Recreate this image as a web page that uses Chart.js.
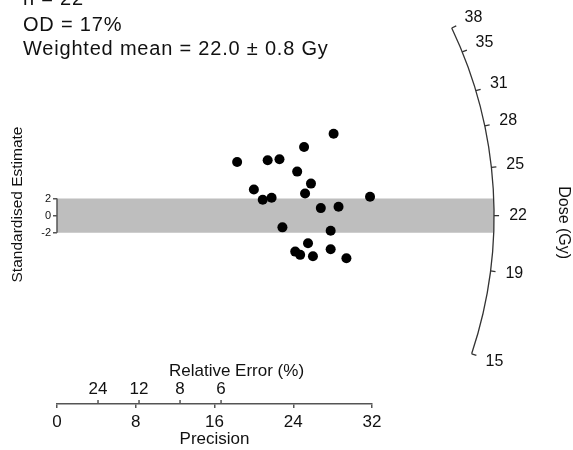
<!DOCTYPE html>
<html>
<head>
<meta charset="utf-8">
<script src="https://cdn.jsdelivr.net/npm/chart.js@4.4.1/dist/chart.umd.min.js"></script>
<style>
  html, body { margin: 0; padding: 0; background: #fff; }
  #wrap { width: 573px; height: 450px; position: relative; }
</style>
</head>
<body>
<div id="wrap"><canvas id="radialPlot"></canvas></div>
<script>
// precision (1/sigma) and standardised estimate of each aliquot
const precision = [28.1, 25.1, 18.3, 21.4, 22.6, 24.4, 25.8, 20.0, 25.2, 20.9, 21.8,
                   31.8, 26.8, 28.6, 22.9, 27.8, 25.5, 24.2, 24.7, 26.0, 27.8, 29.4];
const standardised = [9.56, 8.01, 6.27, 6.47, 6.58, 5.14, 3.74, 3.05, 2.58, 1.85, 2.08,
                      2.20, 0.88, 1.03, -1.37, -1.76, -3.23, -4.20, -4.58, -4.74, -3.93, -4.98];

const precisionTicks = [0, 8, 16, 24, 32];
const relErrorTicks = [24, 12, 8, 6];
const zTicks = [-2, 0, 2];
const doseTicks = [15, 19, 22, 25, 28, 31, 35, 38];

const nAliquots = 22;
const overdispersion = 17;
const centralDose = 22.0;
const centralError = 0.8;
const arcRadius = 44.4; // radius of the dose scale, in precision units

const FONT = "'Liberation Sans', Arial, sans-serif";
const INK = '#111';
const AXIS = '#555';

// band, dose arc, relative error scale and summary text
const radialAxes = {
  id: 'radialAxes',
  beforeDatasetsDraw(chart) {
    const { ctx, scales: { x, y } } = chart;
    const x0 = x.getPixelForValue(0), y0 = y.getPixelForValue(0);
    const R = x.getPixelForValue(arcRadius) - x0;
    const yt = y.getPixelForValue(2), yb = y.getPixelForValue(-2);
    ctx.save();
    ctx.fillStyle = '#bebebe';
    ctx.beginPath();
    ctx.moveTo(x0, yt);
    ctx.arc(x0, y0, R, Math.asin((yt - y0) / R), Math.asin((yb - y0) / R));
    ctx.lineTo(x0, yb);
    ctx.closePath();
    ctx.fill();
    ctx.restore();
  },
  afterDraw(chart) {
    const { ctx, scales: { x, y } } = chart;
    const x0 = x.getPixelForValue(0), y0 = y.getPixelForValue(0);
    const R = x.getPixelForValue(arcRadius) - x0;
    const xPx = x.getPixelForValue(1) - x0;
    const yPx = y0 - y.getPixelForValue(1);
    ctx.save();

    // short bracket of the standardised estimate axis
    ctx.strokeStyle = AXIS;
    ctx.lineWidth = 1.5;
    ctx.beginPath();
    ctx.moveTo(x0, y.getPixelForValue(2));
    ctx.lineTo(x0, y.getPixelForValue(-2));
    ctx.stroke();

    // relative error scale above the precision axis
    const axisY = x.top;
    ctx.fillStyle = INK;
    ctx.font = '17px ' + FONT;
    ctx.textAlign = 'center';
    ctx.textBaseline = 'middle';
    relErrorTicks.forEach(re => {
      const px = x.getPixelForValue(100 / re);
      ctx.beginPath();
      ctx.moveTo(px, axisY);
      ctx.lineTo(px, axisY - 4);
      ctx.stroke();
      ctx.fillText(String(re), px, axisY - 15);
    });
    ctx.fillText('Relative Error (%)', (x.left + x.right) / 2 + 22, axisY - 33);

    // dose arc
    const angleOf = d => Math.atan2(-Math.log(d / centralDose) * yPx, xPx);
    const aTop = angleOf(doseTicks[doseTicks.length - 1]);
    const aBot = angleOf(doseTicks[0]);
    ctx.strokeStyle = '#333';
    ctx.lineWidth = 1.3;
    ctx.beginPath();
    ctx.arc(x0, y0, R, aTop, aBot);
    ctx.stroke();
    ctx.font = '16px ' + FONT;
    doseTicks.forEach(d => {
      const a = angleOf(d);
      const c = Math.cos(a), s = Math.sin(a);
      ctx.beginPath();
      ctx.moveTo(x0 + R * c, y0 + R * s);
      ctx.lineTo(x0 + (R + 5) * c, y0 + (R + 5) * s);
      ctx.stroke();
      ctx.fillText(String(d), x0 + (R + 24) * c, y0 + (R + 24) * s);
    });

    // dose axis title
    ctx.save();
    ctx.translate(563, y0 + 7);
    ctx.rotate(Math.PI / 2);
    ctx.fillText('Dose (Gy)', 0, 0);
    ctx.restore();

    // summary text
    ctx.font = '20px ' + FONT;
    ctx.letterSpacing = '0.8px';
    ctx.textAlign = 'left';
    ctx.textBaseline = 'alphabetic';
    ctx.fillText('n = ' + nAliquots, 23, 5);
    ctx.fillText('OD = ' + overdispersion + '%', 23, 31);
    ctx.fillText('Weighted mean = ' + centralDose.toFixed(1) + ' \u00b1 ' + centralError.toFixed(1) + ' Gy', 23, 55);
    ctx.restore();
  }
};

const points = precision.map((p, i) => ({ x: p, y: standardised[i] }));

new Chart(document.getElementById('radialPlot'), {
  type: 'scatter',
  data: {
    datasets: [{
      data: points,
      backgroundColor: '#000',
      borderWidth: 0,
      pointRadius: 5,
      pointHoverRadius: 5,
      clip: false
    }]
  },
  options: {
    responsive: true,
    maintainAspectRatio: false,
    animation: false,
    layout: { padding: { top: 0, right: 201, bottom: 0, left: 0 } },
    plugins: { legend: { display: false }, tooltip: { enabled: false } },
    scales: {
      x: {
        type: 'linear',
        min: 0,
        max: 32,
        afterBuildTicks: s => { s.ticks = precisionTicks.map(v => ({ value: v })); },
        afterFit: s => { s.height = 46; },
        border: { display: true, color: AXIS, width: 1.5 },
        grid: { drawOnChartArea: false, drawTicks: true, tickLength: 4, color: AXIS, lineWidth: 1.5 },
        ticks: { color: INK, font: { family: FONT, size: 17 }, padding: 4, maxRotation: 0 },
        title: { display: true, text: 'Precision', color: INK, font: { family: FONT, size: 17 }, padding: { top: 0, bottom: 0 } }
      },
      y: {
        type: 'linear',
        min: -22,
        max: 24.6,
        afterBuildTicks: s => { s.ticks = zTicks.map(v => ({ value: v })); },
        afterFit: s => { s.width = 57; s.paddingTop = 0; s.paddingBottom = 0; },
        border: { display: false },
        grid: { drawOnChartArea: false, drawTicks: true, tickLength: 4, color: AXIS, lineWidth: 1.5 },
        ticks: { color: INK, font: { family: FONT, size: 11 }, padding: 2 },
        title: { display: true, text: 'Standardised Estimate', color: INK, font: { family: FONT, size: 15.5 }, padding: { top: 8, bottom: 0 } }
      }
    }
  },
  plugins: [radialAxes]
});
</script>
</body>
</html>
